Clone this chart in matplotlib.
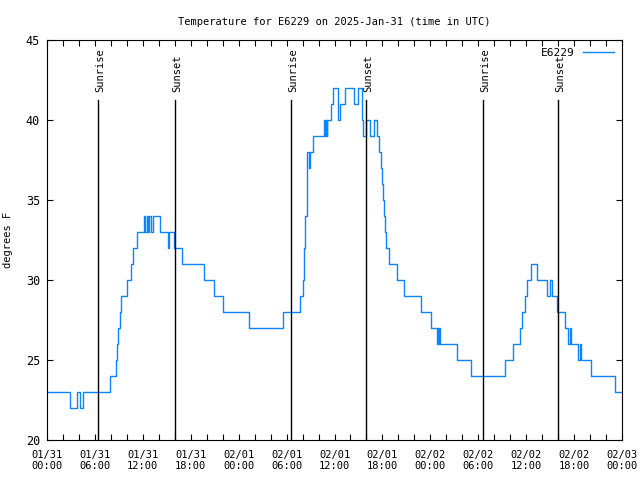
#Imports
import matplotlib
matplotlib.use("Agg")
import matplotlib.pyplot as plt

#Data: hours since 2025-01-31 00:00 UTC where the reading changes, and the new reading (deg F)
hours = [0.0, 2.9, 3.7, 4.1, 4.5, 7.9, 8.7, 8.8, 8.9, 9.1, 9.3,
         10.0, 10.5, 10.8, 11.3, 12.2, 12.3, 12.5, 12.6, 12.8, 13.0, 13.3,
         14.2, 15.1, 15.3, 15.9, 16.9, 19.7, 20.9, 22.1, 25.3, 29.6, 31.7,
         32.1, 32.2, 32.35, 32.5, 32.6, 32.85, 32.95, 33.2, 33.3, 33.6,
         34.7, 34.8, 34.9, 35.0, 35.1, 35.35, 35.5, 35.75, 36.5, 36.7, 37.0, 37.3,
         38.4, 38.9, 39.5, 39.6, 40.0, 40.45, 40.9, 41.35, 41.6, 41.8, 41.9,
         42.05, 42.2, 42.3, 42.5, 42.85, 43.8, 44.7, 46.8, 48.1,
         48.8, 48.9, 49.0, 49.1, 49.2, 49.4, 51.4, 53.1,
         57.35, 58.4, 59.2, 59.5, 59.8, 60.1, 60.6, 61.3, 62.6, 63.0, 63.2,
         63.9, 64.8, 65.3, 65.45, 65.6, 65.8, 66.5, 66.7, 66.9, 67.2, 68.1, 71.1, 72.0]
temps = [23, 22, 23, 22, 23, 24, 25, 26, 27, 28, 29,
         30, 31, 32, 33, 34, 33, 34, 33, 34, 33, 34,
         33, 32, 33, 32, 31, 30, 29, 28, 27, 28, 29,
         30, 32, 34, 37, 38, 37, 38, 38, 39, 39,
         40, 39, 40, 39, 40, 40, 41, 42, 40, 41, 41, 42,
         41, 42, 40, 39, 40, 39, 40, 39, 38, 37, 36,
         35, 34, 33, 32, 31, 30, 29, 28, 27,
         26, 27, 26, 27, 26, 26, 25, 24,
         25, 26, 27, 28, 29, 30, 31, 30, 29, 30, 29,
         28, 27, 26, 27, 26, 26, 25, 26, 25, 25, 24, 23, 23]

#Sunrise / sunset times (hours since start)
sun_times = [6.39, 16.03, 30.55, 39.95, 54.6, 63.99]
sun_names = ["Sunrise", "Sunset", "Sunrise", "Sunset", "Sunrise", "Sunset"]

#Tick labels every 6 hours
tick_hours = [0, 6, 12, 18, 24, 30, 36, 42, 48, 54, 60, 66, 72]
tick_labels = ["01/31\n00:00", "01/31\n06:00", "01/31\n12:00", "01/31\n18:00",
               "02/01\n00:00", "02/01\n06:00", "02/01\n12:00", "02/01\n18:00",
               "02/02\n00:00", "02/02\n06:00", "02/02\n12:00", "02/02\n18:00",
               "02/03\n00:00"]

plt.rcParams['font.family'] = ['DejaVu Sans Mono', 'DejaVu Sans']
fs = 7.5

fig = plt.figure(figsize=(6.4, 4.8), dpi=100)
ax = fig.add_axes([47 / 640, 40 / 480, 575 / 640, 400 / 480])

#the temperature trace
ax.plot(hours, temps, drawstyle='steps-post', color='#0a84ff', lw=1.0, label='E6229')

#sunrise and sunset markers
for t, name in zip(sun_times, sun_names):
        ax.plot([t, t], [20, 20 + 0.85 * 25], color='black', lw=1.0)
        ax.text(t + 0.25, 20 + 0.87 * 25, name, rotation=90, ha='center', va='bottom',
                fontsize=fs)

ax.set_xlim(0, 72)
ax.set_ylim(20, 45)

#x ticks every 2 hours, labels every 6 hours
minor = list(range(0, 73, 2))
ax.set_xticks(minor)
ax.set_xticklabels([tick_labels[tick_hours.index(h)] if h in tick_hours else "" for h in minor],
                   fontsize=fs)
ax.set_yticks([20, 25, 30, 35, 40, 45])
ax.tick_params(axis='y', labelsize=fs + 1, pad=5)
ax.tick_params(axis='x', pad=7)
ax.tick_params(direction='in', length=4, width=0.8, top=True, right=True)

ax.set_title("Temperature for E6229 on 2025-Jan-31 (time in UTC)", fontsize=fs, pad=11)
ax.set_ylabel("degrees F", fontsize=fs, labelpad=9)

ax.legend(loc='upper right', frameon=False, fontsize=fs + 0.5, handlelength=2.8,
          markerfirst=False, borderaxespad=0.3)

fig.savefig("out.png", dpi=100)
